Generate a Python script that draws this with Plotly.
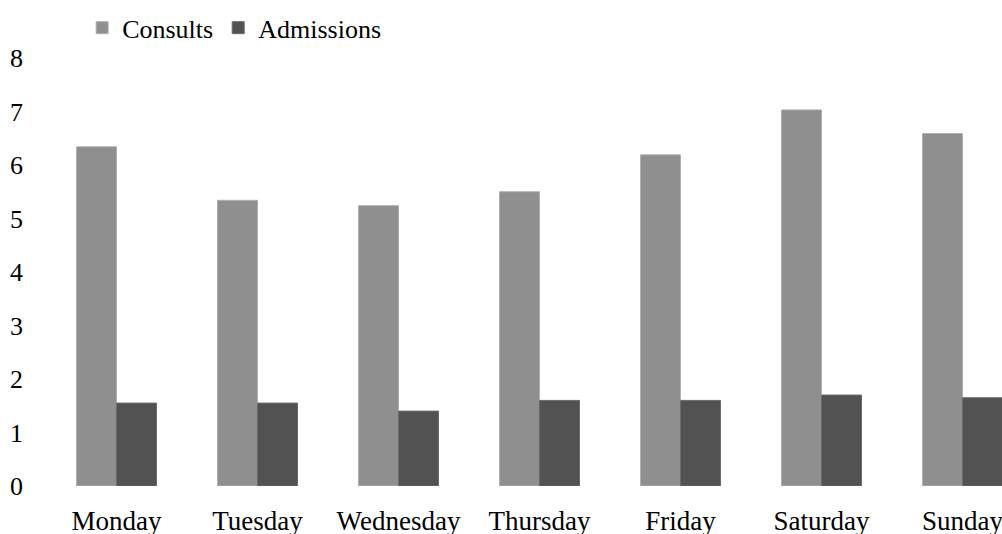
import plotly.graph_objects as go

days = ["Monday", "Tuesday", "Wednesday", "Thursday", "Friday", "Saturday", "Sunday"]
consults = [6.34, 5.34, 5.24, 5.50, 6.19, 7.03, 6.59]
admissions = [1.55, 1.55, 1.40, 1.60, 1.60, 1.70, 1.65]
y_ticks = [0, 1, 2, 3, 4, 5, 6, 7, 8]

FONT = "Liberation Serif, Times New Roman, serif"

fig = go.Figure()
fig.add_trace(go.Bar(name="Consults", x=days, y=consults,
                     marker=dict(color="#8f8f8f", line=dict(color="#b0b0b0", width=1))))
fig.add_trace(go.Bar(name="Admissions", x=days, y=admissions,
                     marker=dict(color="#525252", line=dict(color="#6a6a6a", width=1))))

fig.update_layout(
    width=1002, height=534, autosize=False,
    margin=dict(l=46, r=0, t=58, b=48, pad=0, autoexpand=False),
    paper_bgcolor="white", plot_bgcolor="white",
    barmode="group", bargap=0.433, bargroupgap=0,
    font=dict(family=FONT, size=26, color="black"),
    showlegend=True,
    legend=dict(orientation="h", xref="container", yref="container",
                x=0.082, y=0.948, xanchor="left", yanchor="middle",
                font=dict(family=FONT, size=26, color="black"),
                bgcolor="rgba(0,0,0,0)", traceorder="normal"),
    xaxis=dict(type="category", range=[-0.5, -0.5 + 956 / 141.0],
               showgrid=False, showline=False, zeroline=False, ticks="",
               tickangle=0, automargin=False,
               ticklabelstandoff=16, tickfont=dict(family=FONT, size=27)),
    yaxis=dict(range=[0, 8], tickvals=y_ticks, showgrid=False, showline=False,
               zeroline=False, ticks="", ticklabelstandoff=22, automargin=False,
               tickfont=dict(family=FONT, size=26)),
)

fig.write_html("out.html", config={"displayModeBar": False},
               post_script="document.body.style.margin='0';document.body.style.overflow='hidden';")
